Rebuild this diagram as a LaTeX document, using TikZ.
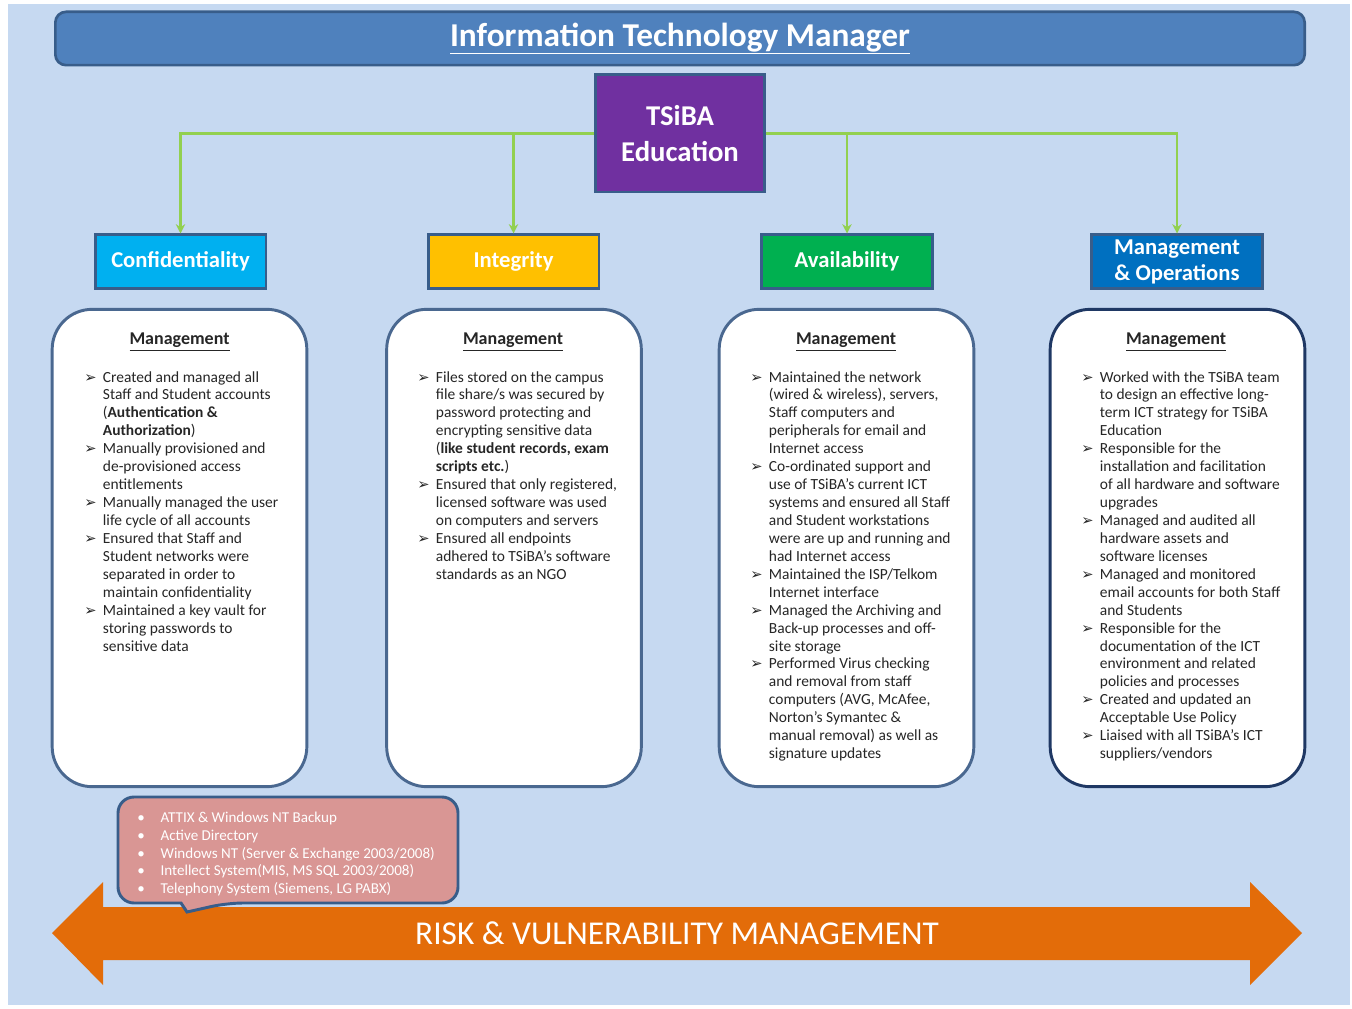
\documentclass[tikz,border=0pt]{standalone}
\usepackage{fontspec}
\setmainfont{Carlito}
\newfontfamily\symfont{DejaVu Sans}
\usetikzlibrary{arrows.meta}

\definecolor{bgblue}{HTML}{C6D9F1}
\definecolor{barblue}{HTML}{4F81BD}
\definecolor{edgeblue}{HTML}{385D8A}
\definecolor{tsibapurple}{HTML}{7030A0}
\definecolor{linkgreen}{HTML}{92D050}
\definecolor{confblue}{HTML}{00B0F0}
\definecolor{integamber}{HTML}{FFC000}
\definecolor{availgreen}{HTML}{00B050}
\definecolor{mgmtblue}{HTML}{0070C0}
\definecolor{cardedge}{HTML}{4A6890}
\definecolor{navyedge}{HTML}{1F3864}
\definecolor{toolpink}{HTML}{D99694}
\definecolor{riskorange}{HTML}{E36C09}
\definecolor{bodytext}{HTML}{262626}

\newcommand\arr[1]{\makebox[14pt][l]{\symfont\fontsize{11}{11}\selectfont ➢}#1}
\newcommand\cont[1]{\hspace*{14pt}#1}
\newcommand\tool[1]{\makebox[17.5pt][l]{•}#1}

\begin{document}
\begin{tikzpicture}[
    x=0.75pt, y=-0.75pt,
    titlebar/.style={fill=barblue, draw=edgeblue, line width=2pt, rounded corners=8pt,
      minimum width=937pt, minimum height=40pt, text=white,
      font=\bfseries\fontsize{25}{28}\selectfont},
    tsibabox/.style={fill=tsibapurple, draw=edgeblue, line width=2pt,
      minimum width=127pt, minimum height=88pt, text=white, align=center,
      font=\bfseries\fontsize{21.5}{27}\selectfont},
    head/.style={draw=edgeblue, line width=2pt, text=white, align=center,
      minimum width=128pt, minimum height=40pt,
      font=\bfseries\fontsize{17}{19.5}\selectfont},
    card/.style={draw=cardedge, line width=2.2pt, fill=white, rounded corners=30pt,
      minimum width=191pt, minimum height=358pt},
    cardtitle/.style={text=bodytext, font=\bfseries\fontsize{13.5}{15}\selectfont},
    items/.style={anchor=north west, inner sep=0pt, align=left, text=bodytext,
      font=\fontsize{11.6}{13.45}\selectfont},
    link/.style={draw=linkgreen, line width=1.6pt, -{Stealth[length=7pt,width=7pt]}},
    toollist/.style={anchor=north west, inner sep=0pt, align=left, text=white,
      font=\fontsize{11.3}{13.3}\selectfont},
    risktext/.style={text=white, font=\fontsize{25}{28}\selectfont}
    ]
    \useasboundingbox (0,0) rectangle (1352,1009);
    \fill[white] (0,0) rectangle (1352,1009);
    \fill[bgblue] (8,4) rectangle (1350,1005);

    \node[titlebar] (title) at (680,38.5) {\underline{Information Technology Manager}};
    \node[tsibabox] (tsiba) at (680,133.5) {TSiBA\\Education};

    \node[head, fill=confblue] (conf) at (180.5,261.5) {Confidentiality};
    \node[head, fill=integamber] (integ) at (513.5,261.5) {Integrity};
    \node[head, fill=availgreen] (avail) at (847,261.5) {Availability};
    \node[head, fill=mgmtblue] (mgmt) at (1177,261.5) {Management\\\& Operations};

    \draw[link] (tsiba.west) -| (conf.north);
    \draw[link] (tsiba.west) -| (integ.north);
    \draw[link] (tsiba.east) -| (avail.north);
    \draw[link] (tsiba.east) -| (mgmt.north);

    \node[card] (confcard) at (179.5,548) {};
    \node[card] (integcard) at (514,548) {};
    \node[card] (availcard) at (846.5,548) {};
    \node[card, draw=navyedge] (mgmtcard) at (1177.5,548) {};

    \node[cardtitle] (conftitle) at (179.5,342) {\underline{Management}};
    \node[cardtitle] (integtitle) at (513,342) {\underline{Management}};
    \node[cardtitle] (availtitle) at (846,342) {\underline{Management}};
    \node[cardtitle] (mgmttitle) at (1176,342) {\underline{Management}};

    \node[items] (conflist) at (84,371) {
      \arr{Created and managed all}\\
      \cont{Staff and Student accounts}\\
      \cont{(\textbf{Authentication \&}}\\
      \cont{\textbf{Authorization})}\\
      \arr{Manually provisioned and}\\
      \cont{de-provisioned access}\\
      \cont{entitlements}\\
      \arr{Manually managed the user}\\
      \cont{life cycle of all accounts}\\
      \arr{Ensured that Staff and}\\
      \cont{Student networks were}\\
      \cont{separated in order to}\\
      \cont{maintain confidentiality}\\
      \arr{Maintained a key vault for}\\
      \cont{storing passwords to}\\
      \cont{sensitive data}};
    \node[items] (integlist) at (417,371) {
      \arr{Files stored on the campus}\\
      \cont{file share/s was secured by}\\
      \cont{password protecting and}\\
      \cont{encrypting sensitive data}\\
      \cont{(\textbf{like student records, exam}}\\
      \cont{\textbf{scripts etc.})}\\
      \arr{Ensured that only registered,}\\
      \cont{licensed software was used}\\
      \cont{on computers and servers}\\
      \arr{Ensured all endpoints}\\
      \cont{adhered to TSiBA's software}\\
      \cont{standards as an NGO}};
    \node[items] (availlist) at (750,371) {
      \arr{Maintained the network}\\
      \cont{(wired \& wireless), servers,}\\
      \cont{Staff computers and}\\
      \cont{peripherals for email and}\\
      \cont{Internet access}\\
      \arr{Co-ordinated support and}\\
      \cont{use of TSiBA's current ICT}\\
      \cont{systems and ensured all Staff}\\
      \cont{and Student workstations}\\
      \cont{were are up and running and}\\
      \cont{had Internet access}\\
      \arr{Maintained the ISP/Telkom}\\
      \cont{Internet interface}\\
      \arr{Managed the Archiving and}\\
      \cont{Back-up processes and off-}\\
      \cont{site storage}\\
      \arr{Performed Virus checking}\\
      \cont{and removal from staff}\\
      \cont{computers (AVG, McAfee,}\\
      \cont{Norton's Symantec \&}\\
      \cont{manual removal) as well as}\\
      \cont{signature updates}};
    \node[items] (mgmtlist) at (1081,371) {
      \arr{Worked with the TSiBA team}\\
      \cont{to design an effective long-}\\
      \cont{term ICT strategy for TSiBA}\\
      \cont{Education}\\
      \arr{Responsible for the}\\
      \cont{installation and facilitation}\\
      \cont{of all hardware and software}\\
      \cont{upgrades}\\
      \arr{Managed and audited all}\\
      \cont{hardware assets and}\\
      \cont{software licenses}\\
      \arr{Managed and monitored}\\
      \cont{email accounts for both Staff}\\
      \cont{and Students}\\
      \arr{Responsible for the}\\
      \cont{documentation of the ICT}\\
      \cont{environment and related}\\
      \cont{policies and processes}\\
      \arr{Created and updated an}\\
      \cont{Acceptable Use Policy}\\
      \arr{Liaised with all TSiBA's ICT}\\
      \cont{suppliers/vendors}};

    \fill[riskorange] (52,933) -- (103,882) -- (103,907) -- (1250,907) -- (1250,882)
      -- (1302,933) -- (1250,985) -- (1250,960) -- (103,960) -- (103,985) -- cycle;
    \node[risktext] (risk) at (677,933) {RISK \& VULNERABILITY MANAGEMENT};

    \draw[fill=toolpink, draw=edgeblue, line width=2.2pt, rounded corners=12pt]
      (288,797) -- (458,797) -- (458,903) -- (227,903) [sharp corners] -- (187,912)
      -- (181,903) [rounded corners=12pt] -- (118,903) -- (118,797) -- cycle;
    \node[toollist] (tools) at (137,812) {
      \tool{ATTIX \& Windows NT Backup}\\
      \tool{Active Directory}\\
      \tool{Windows NT (Server \& Exchange 2003/2008)}\\
      \tool{Intellect System(MIS, MS SQL 2003/2008)}\\
      \tool{Telephony System (Siemens, LG PABX)}};
  \end{tikzpicture}
\end{document}
